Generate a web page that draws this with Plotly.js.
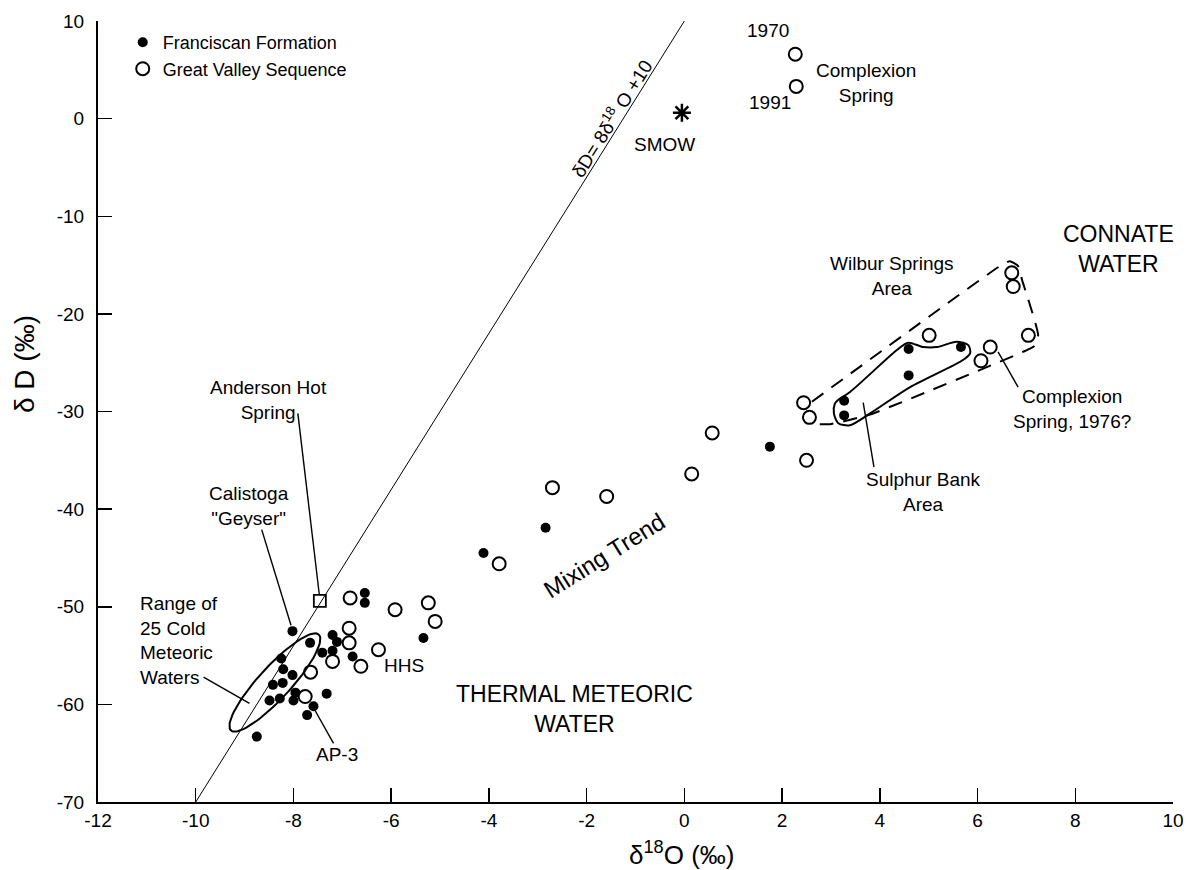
<!DOCTYPE html>
<html><head><meta charset="utf-8">
<script src="https://cdn.plot.ly/plotly-3.0.1.min.js"></script>
<style>html,body{margin:0;padding:0;background:#fff}#chart{width:1196px;height:870px}</style>
</head><body><div id="chart"></div>
<script>
// ---- data ----
const franciscanX = [-8.02,-7.66,-8.25,-8.21,-8.02,-8.42,-8.22,-8.49,-8.28,-7.96,-8.00,-7.59,-7.72,-8.75,-7.32,-7.41,-7.20,-7.11,-7.20,-6.79,-6.54,-6.54,-5.34,-4.11,-2.84,1.75,3.27,3.27,4.59,4.59,5.66];
const franciscanY = [-52.5,-53.7,-55.3,-56.4,-57.0,-58.0,-57.8,-59.6,-59.4,-58.8,-59.6,-60.2,-61.1,-63.3,-58.9,-54.7,-52.9,-53.6,-54.5,-55.1,-48.6,-49.6,-53.2,-44.5,-41.9,-33.6,-28.9,-30.4,-23.6,-26.3,-23.4];
const greatValleyX = [-6.84,-6.86,-6.86,-7.20,-6.62,-7.65,-7.76,-6.26,-5.92,-5.24,-5.10,-3.79,-2.70,-1.59,0.15,0.57,2.50,2.44,2.56,5.01,6.26,6.07,7.04,6.70,6.73,2.27,2.29];
const greatValleyY = [-49.1,-52.2,-53.7,-55.6,-56.1,-56.7,-59.2,-54.4,-50.3,-49.6,-51.5,-45.6,-37.8,-38.7,-36.4,-32.2,-35.0,-29.1,-30.6,-22.2,-23.4,-24.8,-22.2,-15.8,-17.2,6.6,3.3];
const andersonX = [-7.46];
const andersonY = [-49.4];
const smowX = [-0.05];
const smowY = [0.6];
// global meteoric water line dD = 8 d18O + 10, drawn between these d18O values
const gmwlX = [-10, 0];
const gmwlSlope = 8, gmwlIntercept = 10;
// outlines of sample areas
const sulphurX = [3.15,3.39,4.35,4.58,4.89,5.17,5.57,5.81,5.85,5.71,4.62,3.80,3.39,3.15,3.06,3.08,3.15];
const sulphurY = [-28.8,-28.0,-23.7,-22.95,-23.4,-23.4,-22.85,-23.2,-24.0,-24.7,-27.5,-30.2,-31.4,-31.2,-30.2,-29.2,-28.8];
const wilburX = [2.61,6.46,6.66,6.83,6.91,7.24,7.16,6.97,3.80,2.98,2.74];
const wilburY = [-29.0,-15.1,-14.6,-15.1,-16.5,-22.2,-23.3,-23.8,-30.3,-31.3,-31.3];
const coldRange = {cx:-8.38, cy:-57.76, a:65, b:16, deg:47.5}; // ellipse (semi-axes in px)
const xTicks = [-12,-10,-8,-6,-4,-2,0,2,4,6,8,10];
const yTicks = [10,0,-10,-20,-30,-40,-50,-60,-70];

// ---- layout geometry ----
const W=1196, H=870, M={l:98,r:23,t:21,b:68};
const xRange=[-12,10], yRange=[-70,10];
const PW=W-M.l-M.r, PH=H-M.t-M.b;
const pxPerX=PW/(xRange[1]-xRange[0]);
const pxPerY=PH/(yRange[1]-yRange[0]);
function ellipse(e){
  const th=e.deg*Math.PI/180, xs=[], ys=[];
  for(let i=0;i<=90;i++){
    const t=i/90*2*Math.PI, u=e.a*Math.cos(t), v=e.b*Math.sin(t);
    const px=u*Math.cos(th)-v*Math.sin(th), py=u*Math.sin(th)+v*Math.cos(th);
    xs.push(e.cx+px/pxPerX); ys.push(e.cy+py/pxPerY);
  }
  return {xs, ys};
}
const ell = ellipse(coldRange);
const FONT = "Liberation Sans, Arial, Helvetica, sans-serif";

const traces = [
  {x:gmwlX, y:gmwlX.map(v=>gmwlSlope*v+gmwlIntercept), mode:'lines', line:{color:'#000', width:1}, showlegend:false, hoverinfo:'skip'},
  {x:ell.xs, y:ell.ys, mode:'lines', line:{color:'#000', width:2}, showlegend:false, hoverinfo:'skip'},
  {x:sulphurX, y:sulphurY, mode:'lines', line:{color:'#000', width:2, shape:'spline', smoothing:0.8}, showlegend:false, hoverinfo:'skip'},
  {x:wilburX, y:wilburY, mode:'lines', line:{color:'#000', width:2, dash:'14px,10px', shape:'spline', smoothing:0.5}, showlegend:false, hoverinfo:'skip'},
  {x:franciscanX, y:franciscanY, mode:'markers', name:'Franciscan Formation', marker:{symbol:'circle', size:10, color:'#000'}},
  {x:greatValleyX, y:greatValleyY, mode:'markers', name:'Great Valley Sequence', marker:{symbol:'circle-open', size:13, color:'#000', line:{width:2}}},
  {x:andersonX, y:andersonY, mode:'markers', showlegend:false, marker:{symbol:'square-open', size:12, color:'#000', line:{width:1.8}}},
  {x:smowX, y:smowY, mode:'markers', showlegend:false, marker:{symbol:'asterisk-open', size:15, color:'#000', line:{width:2.5, color:'#000'}}}
];

function lbl(x,y,text,opt){ return Object.assign({x, y, xref:'x', yref:'y', text, showarrow:false, font:{size:19, color:'#000', family:FONT}}, opt||{}); }
const big = {size:23, color:'#000', family:FONT};
const annotations = [
  lbl(-8.52,-28.8,'Anderson Hot<br>Spring'),
  lbl(-8.90,-39.7,'Calistoga<br>"Geyser"'),
  lbl(-11.19,-53.5,'Range of<br>25 Cold<br>Meteoric<br>Waters',{xanchor:'left', align:'left'}),
  lbl(-7.11,-65.1,'AP-3'),
  lbl(-5.74,-56.0,'HHS'),
  lbl(1.71,9.0,'1970'),
  lbl(1.75,1.7,'1991'),
  lbl(3.72,3.65,'Complexion<br>Spring'),
  lbl(-0.40,-2.7,'SMOW'),
  lbl(8.88,-13.4,'CONNATE<br>WATER',{font:big}),
  lbl(4.24,-16.1,'Wilbur Springs<br>Area'),
  lbl(7.93,-29.7,'Complexion<br>Spring, 1976?'),
  lbl(4.89,-38.2,'Sulphur Bank<br>Area'),
  lbl(-1.64,-44.8,'Mixing Trend',{textangle:-32, font:{size:24, color:'#000', family:FONT}}),
  lbl(-2.24,-60.5,'THERMAL METEORIC<br>WATER',{font:big}),
  lbl(-1.50,0.06,'δD= 8δ<sup>18</sup> O +10',{textangle:-58, font:{size:19, color:'#000', family:FONT}}),
  {xref:'paper', yref:'paper', x:(25-M.l)/PW, y:1-(364-M.t)/PH, xanchor:'center', yanchor:'middle', text:'δ D (‰)', textangle:-90, showarrow:false, font:{size:28, color:'#000', family:FONT}},
  {xref:'paper', yref:'paper', x:(681-M.l)/PW, y:-(853-(H-M.b))/PH, xanchor:'center', yanchor:'middle', text:'δ<sup>18</sup>O (‰)', showarrow:false, font:{size:26, color:'#000', family:FONT}}
];

function seg(x0,y0,x1,y1){ return {type:'line', xref:'x', yref:'y', x0, y0, x1, y1, line:{color:'#000', width:1.4}}; }
const shapes = [
  seg(-7.91,-30.2,-7.47,-48.8),
  seg(-8.65,-42.1,-8.05,-51.9),
  seg(-9.84,-57.2,-8.90,-59.9),
  seg(-7.56,-60.6,-7.18,-64.0),
  seg(6.42,-23.9,6.83,-27.5),
  seg(3.66,-29.1,3.88,-35.7)
];

const axisCommon = {showgrid:false, zeroline:false, showline:true, linecolor:'#000', linewidth:2, ticks:'inside', ticklen:14, tickwidth:1.5, tickcolor:'#000', tickfont:{size:19, color:'#000', family:FONT}, mirror:false, fixedrange:true};
const layout = {
  width:W, height:H, margin:M, paper_bgcolor:'#fff', plot_bgcolor:'#fff',
  font:{family:FONT, color:'#000'},
  xaxis:Object.assign({}, axisCommon, {range:xRange, tickmode:'array', tickvals:xTicks, ticktext:xTicks.map(String), ticklabelstandoff:0}),
  yaxis:Object.assign({}, axisCommon, {range:yRange, tickmode:'array', tickvals:yTicks, ticktext:yTicks.map(String), ticklabelstandoff:8}),
  showlegend:true,
  legend:{x:0.023, y:0.996, xanchor:'left', yanchor:'top', bgcolor:'rgba(0,0,0,0)', borderwidth:0, font:{size:18, color:'#000', family:FONT}, tracegroupgap:0},
  annotations, shapes
};
Plotly.newPlot('chart', traces, layout, {staticPlot:true, displayModeBar:false});
</script></body></html>
